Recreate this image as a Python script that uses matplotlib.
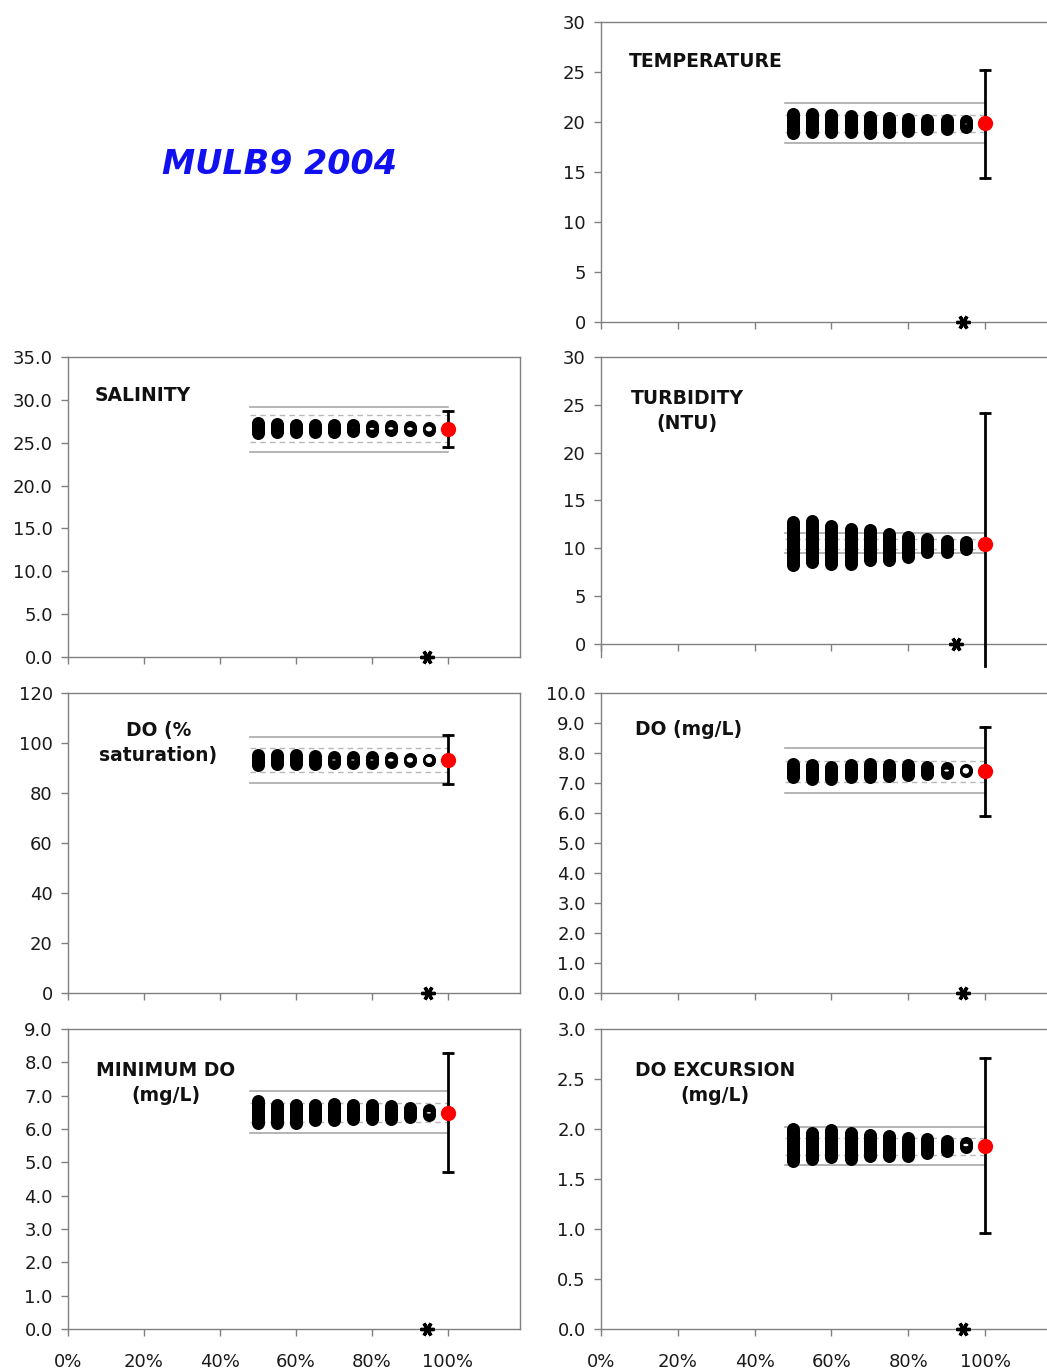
import numpy as np
import matplotlib
matplotlib.use("Agg")
import matplotlib.pyplot as plt
from matplotlib.patches import Ellipse
from matplotlib.transforms import ScaledTranslation

plt.rcParams['font.family'] = ['DejaVu Sans']

# Percentile positions of the exceedance columns (%)
col_x = [50, 55, 60, 65, 70, 75, 80, 85, 90, 95]
x_ticks = [0, 20, 40, 60, 80, 100]
x_tick_labels = ['0%', '20%', '40%', '60%', '80%', '100%']

# TEMPERATURE
temp_lo = [18.95, 19.05, 19.05, 19.05, 18.95, 19.05, 19.15, 19.3, 19.3, 19.5]
temp_hi = [20.85, 20.85, 20.75, 20.6, 20.5, 20.45, 20.35, 20.2, 20.2, 20.1]
temp_mean, temp_err = 19.9, (14.4, 25.2)
temp_solid, temp_dashed = (21.9, 17.9), (20.7, 19.0)
temp_star = 94.3

# SALINITY
sal_lo = [26.13, 26.25, 26.25, 26.25, 26.25, 26.36, 26.36, 26.43, 26.43, 26.51]
sal_hi = [27.28, 27.21, 27.10, 27.10, 27.10, 27.10, 26.90, 26.90, 26.82, 26.70]
sal_mean, sal_err = 26.6, (24.5, 28.7)
sal_solid, sal_dashed = (29.2, 23.9), (28.2, 25.1)
sal_star = 94.5

# TURBIDITY (NTU)
turb_lo = [8.3, 8.6, 8.4, 8.4, 8.8, 8.8, 9.1, 9.6, 9.6, 9.9]
turb_hi = [12.8, 12.9, 12.3, 12.0, 11.9, 11.5, 11.2, 11.0, 10.8, 10.7]
turb_mean, turb_err = 10.4, (-2.3, 24.1)
turb_solid, turb_dashed = (11.6, 9.5), (11.0, 9.9)
turb_star = 92.5

# DO (% saturation)
dop_lo = [91.1, 91.5, 91.5, 91.5, 92.1, 92.1, 92.1, 92.5, 92.9, 93.1]
dop_hi = [95.3, 95.3, 95.3, 94.9, 94.3, 94.3, 94.3, 93.9, 93.5, 93.3]
dop_mean, dop_err = 93.2, (83.6, 103.2)
dop_solid, dop_dashed = (102.5, 83.9), (98.0, 88.5)
dop_star = 94.7

# DO (mg/L)
dom_lo = [7.21, 7.15, 7.15, 7.21, 7.21, 7.24, 7.28, 7.30, 7.34, 7.40]
dom_hi = [7.64, 7.60, 7.55, 7.60, 7.64, 7.60, 7.60, 7.55, 7.49, 7.42]
dom_mean, dom_err = 7.41, (5.9, 8.87)
dom_solid, dom_dashed = (8.16, 6.66), (7.74, 7.04)
dom_star = 94.3

# MINIMUM DO (mg/L)
mindo_lo = [6.17, 6.17, 6.17, 6.26, 6.28, 6.31, 6.31, 6.31, 6.37, 6.41]
mindo_hi = [6.83, 6.73, 6.73, 6.73, 6.76, 6.73, 6.73, 6.68, 6.63, 6.56]
mindo_mean, mindo_err = 6.49, (4.71, 8.28)
mindo_solid, mindo_dashed = (7.13, 5.88), (6.78, 6.20)
mindo_star = 94.5

# DO EXCURSION (mg/L)
exc_lo = [1.68, 1.70, 1.72, 1.70, 1.73, 1.73, 1.73, 1.76, 1.78, 1.82]
exc_hi = [2.00, 1.96, 1.99, 1.96, 1.94, 1.93, 1.91, 1.90, 1.88, 1.86]
exc_mean, exc_err = 1.83, (0.96, 2.71)
exc_solid, exc_dashed = (2.02, 1.64), (1.91, 1.74)
exc_star = 94.3

W, H = 1047, 1372
DPI = 100
fig = plt.figure(figsize=(W / DPI, H / DPI), dpi=DPI)

SPINE = '#808080'
OUTER_PX = 13.0   # outer diameter of the open circles
INNER_PX = 6.5    # inner (hollow) diameter
OUTER_PT = OUTER_PX * 72 / DPI


def make_axes(left_px, top_px, width_px, height_px=300):
    return fig.add_axes([left_px / W, 1 - (top_px + height_px) / H,
                         width_px / W, height_px / H])


def draw_panel(ax, lo, hi, mean, err, solid, dashed, star_x, ylim, yticks,
               fmt, label, label_xy, ha, bottom_labels=False, zero_spine=False):
    ax.set_xlim(0, 119)
    ax.set_ylim(*ylim)
    for s in ax.spines.values():
        s.set_color(SPINE)
        s.set_linewidth(1.0)
    if zero_spine:
        ax.spines['bottom'].set_position(('data', 0))
    ax.set_xticks(x_ticks)
    if bottom_labels:
        ax.set_xticklabels(x_tick_labels)
    else:
        ax.set_xticklabels([])
    ax.set_yticks(yticks)
    ax.set_yticklabels([fmt.format(v) for v in yticks])
    ax.tick_params(direction='out', length=5, width=1, color=SPINE,
                   labelsize=13, labelcolor='#1a1a1a')
    ax.tick_params(axis='y', pad=6)
    ax.tick_params(axis='x', pad=12)

    # reference lines
    for v in solid:
        ax.plot([48, 100], [v, v], color='#a8a8a8', lw=1.2, zorder=1)
    for v in dashed:
        ax.plot([48, 100], [v, v], color='#b8b8b8', lw=1.0, ls=(0, (4, 3)), zorder=1)

    # stacked open circles: a capsule from lo to hi, hollow where all circles overlap
    for x, a, b in zip(col_x, lo, hi):
        ax.plot([x, x], [a, b], color='black', lw=OUTER_PT,
                solid_capstyle='butt', zorder=3)
        ax.plot([x, x], [a, b], 'o', color='black', ms=OUTER_PT, mew=0, zorder=3)
        p = ax.transData.transform([(x, a), (x, b)])
        d = abs(p[1, 1] - p[0, 1])
        if d < INNER_PX:
            hgt = INNER_PX - d
            wid = 2 * np.sqrt((INNER_PX / 2) ** 2 - (d / 2) ** 2)
            tr = fig.dpi_scale_trans + ScaledTranslation(x, (a + b) / 2, ax.transData)
            ax.add_patch(Ellipse((0, 0), wid / DPI, hgt / DPI, transform=tr,
                                 facecolor='white', edgecolor='none', zorder=4))

    # error bar and mean
    ax.plot([100, 100], list(err), color='black', lw=2, zorder=5, clip_on=False)
    for v in err:
        if ylim[0] <= v <= ylim[1]:
            ax.plot(100, v, marker='_', ms=9, mew=2, color='black', zorder=5)
    ax.plot(100, mean, 'o', color='#ff0000', ms=11, mew=0, zorder=6, clip_on=False)

    # asterisk on the axis
    ax.plot(star_x, 0, marker=(6, 2, 90), ms=10, mew=2.4, color='black',
            zorder=7, clip_on=False)

    ax.text(label_xy[0], label_xy[1], label, transform=ax.transAxes,
            ha=ha, va='center', fontsize=13.5, fontweight='bold',
            linespacing=1.35, color='#111111')


L_X, R_X = 68, 601
L_W, R_W = 452, 457
ROWS = [22, 357, 693, 1029]

ax_t = make_axes(R_X, ROWS[0], R_W)
draw_panel(ax_t, temp_lo, temp_hi, temp_mean, temp_err, temp_solid, temp_dashed,
           temp_star, (0, 30), list(range(0, 31, 5)), '{:.0f}',
           'TEMPERATURE', (0.062, 0.87), 'left')

ax_s = make_axes(L_X, ROWS[1], L_W)
draw_panel(ax_s, sal_lo, sal_hi, sal_mean, sal_err, sal_solid, sal_dashed,
           sal_star, (0, 35), list(np.arange(0, 35.1, 5)), '{:.1f}',
           'SALINITY', (0.06, 0.873), 'left')

ax_tb = make_axes(R_X, ROWS[1], R_W)
draw_panel(ax_tb, turb_lo, turb_hi, turb_mean, turb_err, turb_solid, turb_dashed,
           turb_star, (-1.36, 30), list(range(0, 31, 5)), '{:.0f}',
           'TURBIDITY\n(NTU)', (0.188, 0.82), 'center', zero_spine=True)

ax_dp = make_axes(L_X, ROWS[2], L_W)
draw_panel(ax_dp, dop_lo, dop_hi, dop_mean, dop_err, dop_solid, dop_dashed,
           dop_star, (0, 120), list(range(0, 121, 20)), '{:.0f}',
           'DO (%\nsaturation)', (0.2, 0.833), 'center')

ax_dm = make_axes(R_X, ROWS[2], R_W)
draw_panel(ax_dm, dom_lo, dom_hi, dom_mean, dom_err, dom_solid, dom_dashed,
           dom_star, (0, 10), list(np.arange(0, 10.1, 1)), '{:.1f}',
           'DO (mg/L)', (0.075, 0.877), 'left')

ax_mn = make_axes(L_X, ROWS[3], L_W)
draw_panel(ax_mn, mindo_lo, mindo_hi, mindo_mean, mindo_err, mindo_solid, mindo_dashed,
           mindo_star, (0, 9), list(np.arange(0, 9.1, 1)), '{:.1f}',
           'MINIMUM DO\n(mg/L)', (0.217, 0.82), 'center', bottom_labels=True)

ax_ex = make_axes(R_X, ROWS[3], R_W)
draw_panel(ax_ex, exc_lo, exc_hi, exc_mean, exc_err, exc_solid, exc_dashed,
           exc_star, (0, 3), list(np.arange(0, 3.01, 0.5)), '{:.1f}',
           'DO EXCURSION\n(mg/L)', (0.25, 0.82), 'center', bottom_labels=True)

fig.text(280 / W, 1 - 165 / H, 'MULB9 2004', color='#1010f0', fontsize=24,
         style='italic', fontweight='bold', ha='center', va='center')

fig.savefig('out.png', dpi=DPI, facecolor='white')
